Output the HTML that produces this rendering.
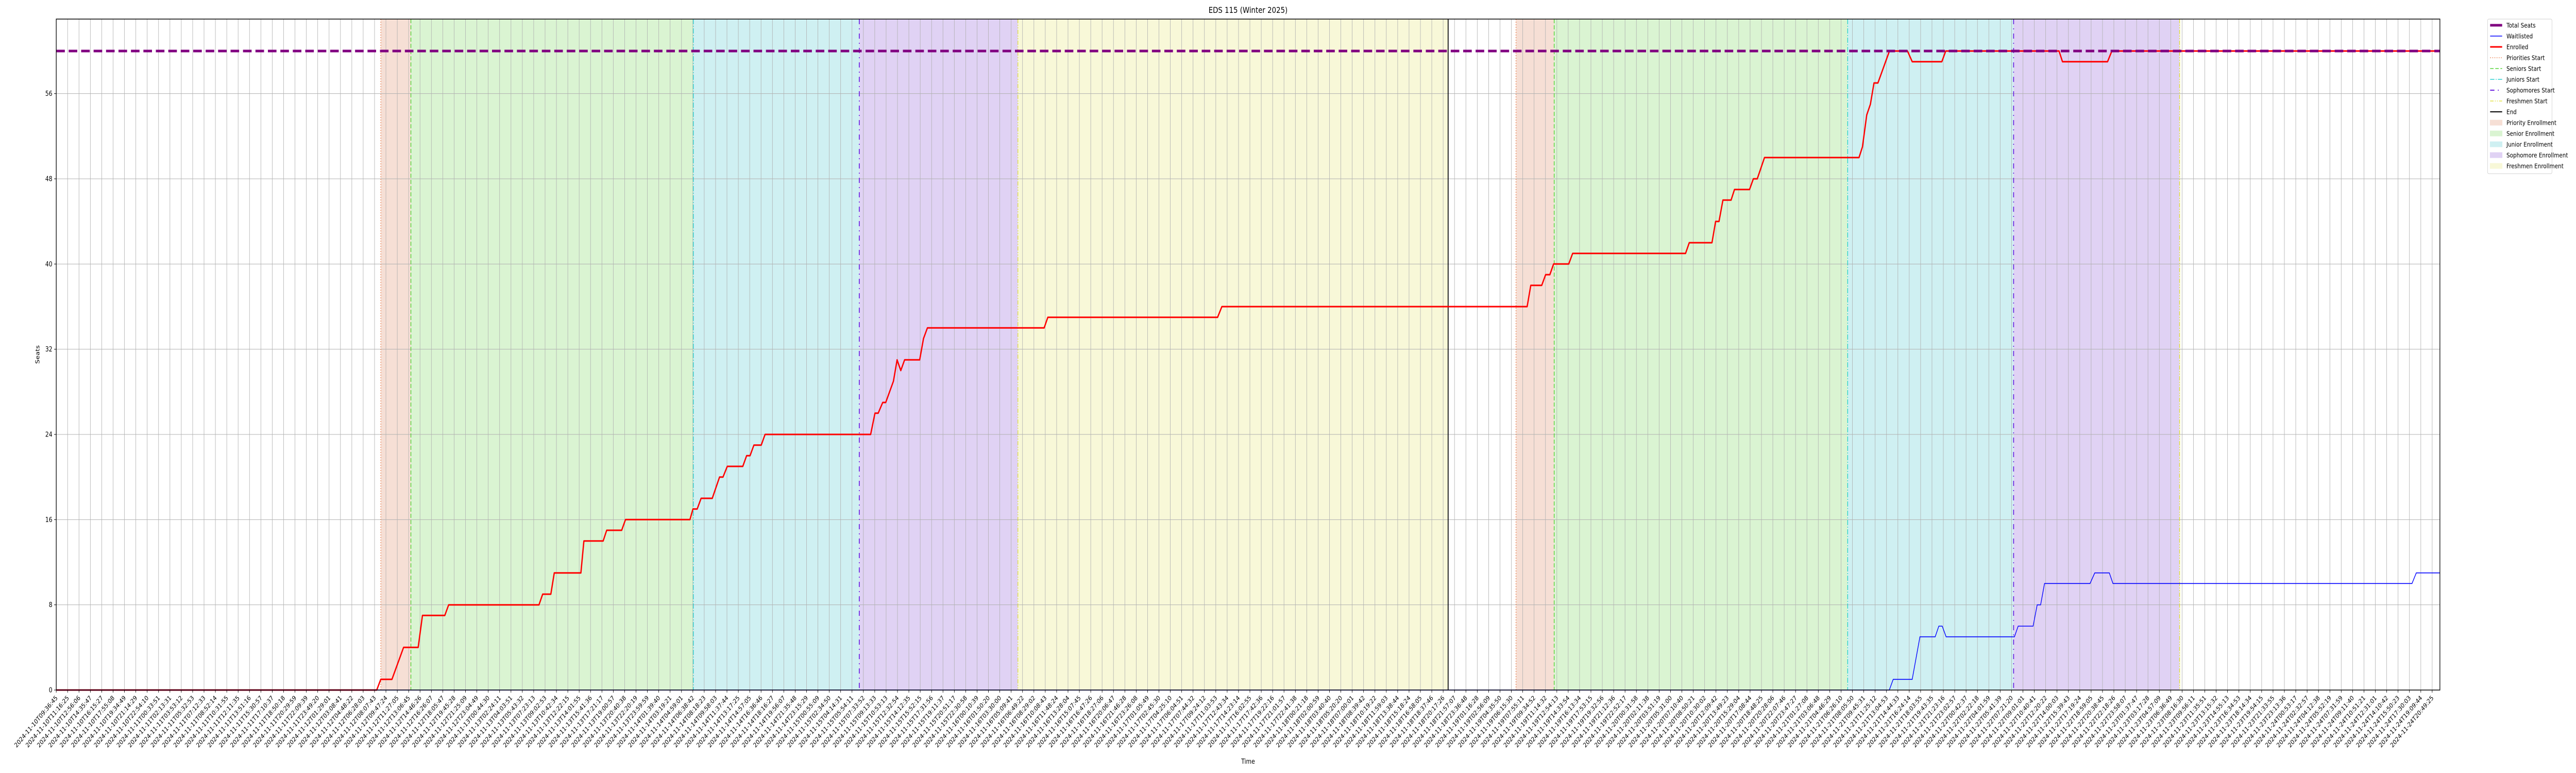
<!DOCTYPE html>
<html><head><meta charset="utf-8"><style>
html,body{margin:0;padding:0;background:#fff;width:100%;height:100%;overflow:hidden;}
svg{display:block;width:100vw;height:100vh;font-family:"DejaVu Sans","Liberation Sans",sans-serif;}
</style></head><body>
<svg id="chart" viewBox="0 0 6000 1500" preserveAspectRatio="none" xmlns="http://www.w3.org/2000/svg">
<rect x="0" y="0" width="6000" height="1500" fill="#fff"/>
<g id="regions"></g><g id="grid"></g><g id="phases"></g><g id="series"></g><g id="axes"></g><g id="legend"></g>
<text x="2907" y="25" font-size="16" text-anchor="middle">EDS 115 (Winter 2025)</text>
<text x="2907" y="1482" font-size="13" text-anchor="middle">Time</text>
<text x="0" y="0" font-size="13" text-anchor="middle" transform="translate(92,688) rotate(-90)">Seats</text>
</svg>
<script>
// data (hours since 2024-11-10T09:36:45)
const totalSeats = 60;
const enrolledT = [0,46.84,47.43,49.06,50.76,52.89,53.52,56.78,57.35,70.55,71.09,72.28,72.78,76.67,77.11,79.93,80.44,82.63,83.19,92.61,93.05,93.67,94.24,95.87,96.94,97.44,98.07,100.33,100.89,101.39,101.96,103.03,103.59,119.02,119.65,120.12,120.78,121.22,122.35,122.88,123.42,123.98,126.18,126.74,127.31,144.37,144.91,169.72,170.35,214.96,215.49,217.09,217.66,218.28,218.82,221.04,221.61,238.11,238.65,241.97,242.50,243.00,243.57,244.76,245.26,247.46,248.02,248.59,249.65,263.46,263.96,264.59,265.12,265.65,266.22,267.91,270.54,271.23,275.56,276.13,292.69,293.19,299.78,300.41,348.35];
const enrolledV = [0,0,1,1,4,4,7,7,8,8,9,9,11,11,14,14,15,15,16,16,17,17,18,18,20,20,21,21,22,22,23,23,24,24,26,26,27,27,29,31,30,31,31,33,34,34,35,35,36,36,38,38,39,39,40,40,41,41,42,42,44,44,46,46,47,47,48,48,50,50,51,54,55,57,57,60,60,59,59,60,60,59,59,60,60];
const waitT = [0,267.89,268.45,271.23,272.36,274.59,275.12,275.62,276.19,286.17,286.72,288.90,289.50,290.00,290.57,297.22,297.91,300.04,300.57,344.27,344.90,348.35];
const waitV = [0,0,1,1,5,5,6,6,5,5,6,6,8,8,10,10,11,11,10,10,11,11];
const phaseNames = ["priority","senior","junior","sophomore","freshmen"];
const phaseStarts1 = [47.43,51.83,93.11,117.36,140.54];
const phaseStarts2 = [213.33,218.91,261.80,286.05,310.30];
const endTimes = [203.41,310.45];
const yTicks = [0,8,16,24,32,40,48,56];
const startMs = Date.UTC(2024,10,10,9,36,45);
const tickCount = 210, tickSpanMin = 20832.67;

const L=131,R=5683,T=37,B=1339,XMAX=348.35,YMAX=63;
const xs=t=>L+(t/XMAX)*(R-L);
const ys=v=>B-(v/YMAX)*(B-T);
const NS="http://www.w3.org/2000/svg";
function mk(tag,attrs,parent){const e=document.createElementNS(NS,tag);for(const k in attrs)e.setAttribute(k,attrs[k]);parent.appendChild(e);return e;}
const regions=document.getElementById('regions'),grid=document.getElementById('grid'),phases=document.getElementById('phases'),series=document.getElementById('series'),axes=document.getElementById('axes'),legend=document.getElementById('legend');
const fills=["#f6dfd5","#daf4d2","#cff0f2","#e0d2f4","#f8f8d8"];
const lineCols=["#e8703a","#33cc11","#00c8c8","#6a1fe0","#dddd22"];
const dashes=["2,3","8,4","10,3,2,3","10,8,2,8","8,3,2,3,2,3"];
[phaseStarts1,phaseStarts2].forEach((ps,ci)=>{
  for(let i=0;i<5;i++){
    const a=ps[i],b=i<4?ps[i+1]:endTimes[ci];
    const r=mk('rect',{x:xs(a),y:T,width:Math.max(0,xs(b)-xs(a)),height:B-T,fill:fills[i]},regions);
    
    
  }
});
for(let i=0;i<tickCount;i++){
  const x=L+i*(R-18-L)/(tickCount-1);
  const g=mk('line',{x1:x,x2:x,y1:T,y2:B,stroke:"#b0b0b0","stroke-width":1},grid);
  
  
  const tk=mk('line',{x1:x,x2:x,y1:B,y2:B+5,stroke:"#000","stroke-width":1},axes);
  
  
  const d=new Date(startMs+i*tickSpanMin/(tickCount-1)*60000);
  const lab=d.toISOString().slice(0,19);
  const tx=mk('text',{x:0,y:0,"font-size":12.5,"text-anchor":"end",transform:`translate(${x+4},${B+16}) rotate(-45)`},axes);
  tx.textContent=lab;
  
  
}
yTicks.forEach(v=>{
  const y=ys(v);
  const g=mk('line',{x1:L,x2:R,y1:y,y2:y,stroke:"#b0b0b0","stroke-width":1},grid);
  
  
  const tk=mk('line',{x1:L-5,x2:L,y1:y,y2:y,stroke:"#000","stroke-width":1},axes);
  
  
  const tx=mk('text',{x:L-9,y:y+4.5,"font-size":13,"text-anchor":"end"},axes);
  tx.textContent=v;
  
  
});
[phaseStarts1,phaseStarts2].forEach(ps=>{
  ps.forEach((t,i)=>{
    const l=mk('line',{x1:xs(t),x2:xs(t),y1:T,y2:B,stroke:lineCols[i],"stroke-width":i==3?2:1.3,"stroke-dasharray":dashes[i]},phases);
    
    
  });
});
const endL=mk('line',{x1:xs(endTimes[0]),x2:xs(endTimes[0]),y1:T,y2:B,stroke:"#000","stroke-width":2},phases);


function pts(ts,vs){return ts.map((t,i)=>xs(t).toFixed(1)+','+ys(vs[i]).toFixed(1)).join(' ');}
const en=mk('polyline',{points:pts(enrolledT,enrolledV),fill:"none",stroke:"#ff0000","stroke-width":3,"stroke-linejoin":"round"},series);


const wl=mk('polyline',{points:pts(waitT,waitV),fill:"none",stroke:"#0000ff","stroke-width":1.6},series);


const ts=mk('line',{x1:L,x2:R,y1:ys(totalSeats),y2:ys(totalSeats),stroke:"#800080","stroke-width":5,"stroke-dasharray":"20,9"},series);


const fr=mk('rect',{x:L,y:T,width:R-L,height:B-T,fill:"none",stroke:"#000","stroke-width":1.5},axes);


const lb=mk('rect',{x:5794,y:37,width:150,height:300,fill:"#fff",stroke:"#d0d0d0","stroke-width":1,rx:3},legend);


const items=[
 ["Total Seats","line","#800080",5,"none"],["Waitlisted","line","#0000ff",1.5,"none"],["Enrolled","line","#ff0000",3,"none"],
 ["Priorities Start","line",lineCols[0],1.3,dashes[0]],["Seniors Start","line",lineCols[1],1.3,dashes[1]],["Juniors Start","line",lineCols[2],1.3,dashes[2]],
 ["Sophomores Start","line",lineCols[3],2,dashes[3]],["Freshmen Start","line",lineCols[4],1.3,dashes[4]],["End","line","#000",2,"none"],
 ["Priority Enrollment","rect",fills[0]],["Senior Enrollment","rect",fills[1]],["Junior Enrollment","rect",fills[2]],["Sophomore Enrollment","rect",fills[3]],["Freshmen Enrollment","rect",fills[4]]];
items.forEach((it,i)=>{
  const y=49+i*21;
  if(it[1]=="line"){
    const s=mk('line',{x1:5800,x2:5828,y1:y,y2:y,stroke:it[2],"stroke-width":it[3],"stroke-dasharray":it[4]},legend);
    
    
  } else {
    const s=mk('rect',{x:5800,y:y-5,width:28,height:10,fill:it[2],stroke:it[2]},legend);
    
    
  }
  const tx=mk('text',{x:5838,y:y+4.5,"font-size":12.5},legend);
  tx.textContent=it[0];
  
  
});
</script>
</body></html>
